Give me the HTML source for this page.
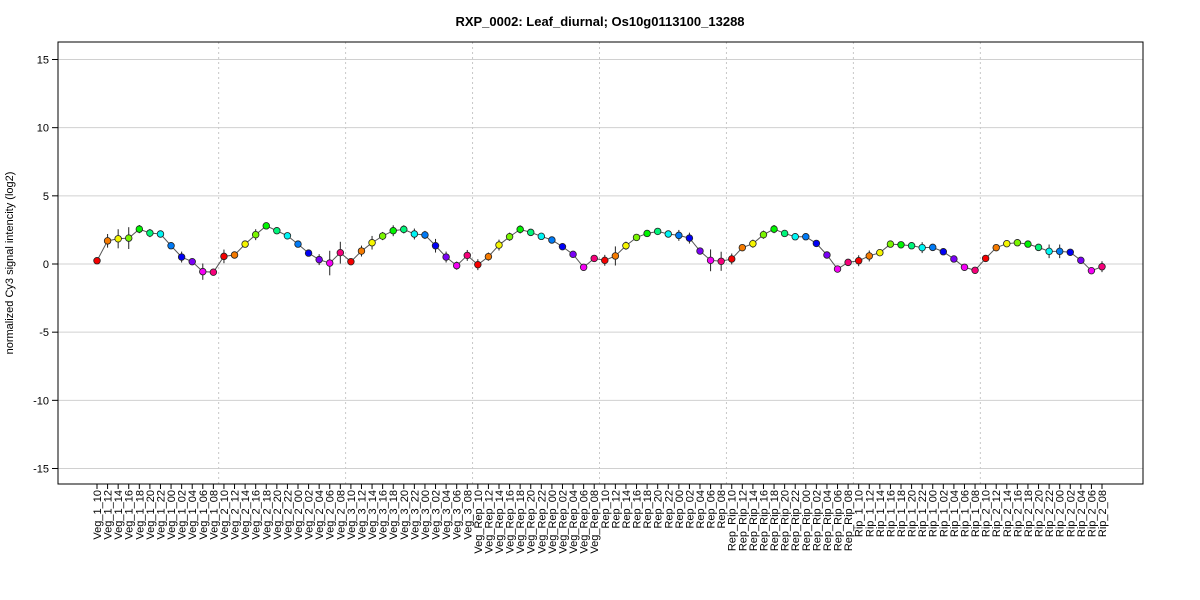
<!DOCTYPE html>
<html><head><meta charset="utf-8"><style>
body{margin:0;background:#fff;font-family:"Liberation Sans",Arial,sans-serif}
svg{display:block}
</style></head><body>
<svg id="chart" width="1200" height="600" xmlns="http://www.w3.org/2000/svg">
<text x="600" y="26" text-anchor="middle" font-size="13" font-weight="bold">RXP_0002: Leaf_diurnal; Os10g0113100_13288</text>
<text transform="translate(13,263) rotate(-90)" text-anchor="middle" font-size="11">normalized Cy3 signal intencity (log2)</text>
<g id="grid"></g><g id="axes"></g><g id="series"></g><g id="xlabels"></g>
</svg>
<script>
const groups = ["Veg_1","Veg_2","Veg_3","Veg_Rep","Rep","Rep_Rip","Rip_1","Rip_2"];
const hours = ["10","12","14","16","18","20","22","00","02","04","06","08"];
const values = [
0.24,1.7,1.85,1.9,2.56,2.27,2.2,1.34,0.51,0.17,-0.56,-0.6,
0.56,0.66,1.46,2.15,2.8,2.44,2.07,1.46,0.8,0.32,0.07,0.83,
0.17,0.95,1.56,2.05,2.44,2.54,2.2,2.13,1.34,0.51,-0.12,0.63,
-0.05,0.54,1.39,2.0,2.54,2.32,2.03,1.76,1.27,0.71,-0.24,0.41,
0.27,0.59,1.34,1.95,2.24,2.39,2.2,2.1,1.9,0.95,0.27,0.2,
0.37,1.2,1.49,2.15,2.56,2.24,2.0,2.0,1.51,0.66,-0.37,0.12,
0.24,0.59,0.83,1.46,1.41,1.34,1.2,1.22,0.9,0.37,-0.24,-0.46,
0.41,1.2,1.49,1.56,1.46,1.22,0.93,0.93,0.86,0.27,-0.49,-0.2];
const errs = [
0.2,0.5,0.7,0.8,0.3,0.3,0.2,0.2,0.4,0.2,0.6,0.2,
0.5,0.2,0.2,0.4,0.2,0.2,0.2,0.2,0.2,0.4,0.9,0.8,
0.2,0.4,0.5,0.3,0.4,0.3,0.4,0.3,0.5,0.4,0.3,0.4,
0.4,0.3,0.4,0.3,0.3,0.2,0.2,0.2,0.2,0.2,0.2,0.2,
0.4,0.7,0.3,0.2,0.2,0.2,0.2,0.4,0.4,0.2,0.8,0.7,
0.4,0.2,0.3,0.3,0.3,0.2,0.2,0.2,0.2,0.2,0.2,0.2,
0.4,0.4,0.2,0.2,0.2,0.2,0.4,0.2,0.2,0.2,0.2,0.2,
0.2,0.2,0.2,0.2,0.2,0.2,0.5,0.5,0.2,0.2,0.2,0.4];
const yTicks = [-15,-10,-5,0,5,10,15];
const NS="http://www.w3.org/2000/svg";
const L=58,R=1143,T=42,B=484;
const X0=97,X1=1102;
function xs(i){return X0+i*(X1-X0)/(values.length-1);}
function ys(v){return 264 - v*13.633;}
function mk(tag,attrs,parent){const e=document.createElementNS(NS,tag);for(const k in attrs)e.setAttribute(k,attrs[k]);parent.appendChild(e);return e;}
const grid=document.getElementById('grid'),axes=document.getElementById('axes'),ser=document.getElementById('series'),xl=document.getElementById('xlabels');
yTicks.forEach(t=>{
  const g=mk('line',{x1:L,x2:R,y1:ys(t),y2:ys(t),stroke:'#d0d0d0','stroke-width':1},grid);
  
  
  const tk=mk('line',{x1:L-6,x2:L,y1:ys(t),y2:ys(t),stroke:'#000'},axes);
  
  
  const tx=mk('text',{x:L-9,y:ys(t)+4,'text-anchor':'end','font-size':11},axes);
  tx.textContent=t;
  
  
});
for(let g=1;g<groups.length;g++){
  const x=(xs(g*12-1)+xs(g*12))/2;
  const s=mk('line',{x1:x,x2:x,y1:T,y2:B,stroke:'#c8c8c8','stroke-dasharray':'2,3'},grid);
  
  
}
const frame=mk('rect',{x:L,y:T,width:R-L,height:B-T,fill:'none',stroke:'#000'},axes);


const pts=values.map((v,i)=>xs(i)+','+ys(v)).join(' ');
const pl=mk('polyline',{points:pts,fill:'none',stroke:'#555','stroke-width':1},ser);


values.forEach((v,i)=>{
  const x=xs(i);
  const eb=mk('line',{x1:x,x2:x,y1:ys(v+errs[i]),y2:ys(v-errs[i]),stroke:'#222','stroke-width':1},ser);
  
  
  const c=mk('circle',{cx:x,cy:ys(v),r:3.3,fill:'hsl('+((i%12)*30)+',100%,48%)',stroke:'#222','stroke-width':0.8},ser);
  
  
  const lab=groups[Math.floor(i/12)]+'_'+hours[i%12];
  const tk=mk('line',{x1:x,x2:x,y1:B,y2:B+5,stroke:'#000'},xl);
  
  
  const t=mk('text',{transform:'translate('+(x+4)+','+(B+6)+') rotate(-90)','text-anchor':'end','font-size':11},xl);
  t.textContent=lab;
  
  
});
</script>
</body></html>
